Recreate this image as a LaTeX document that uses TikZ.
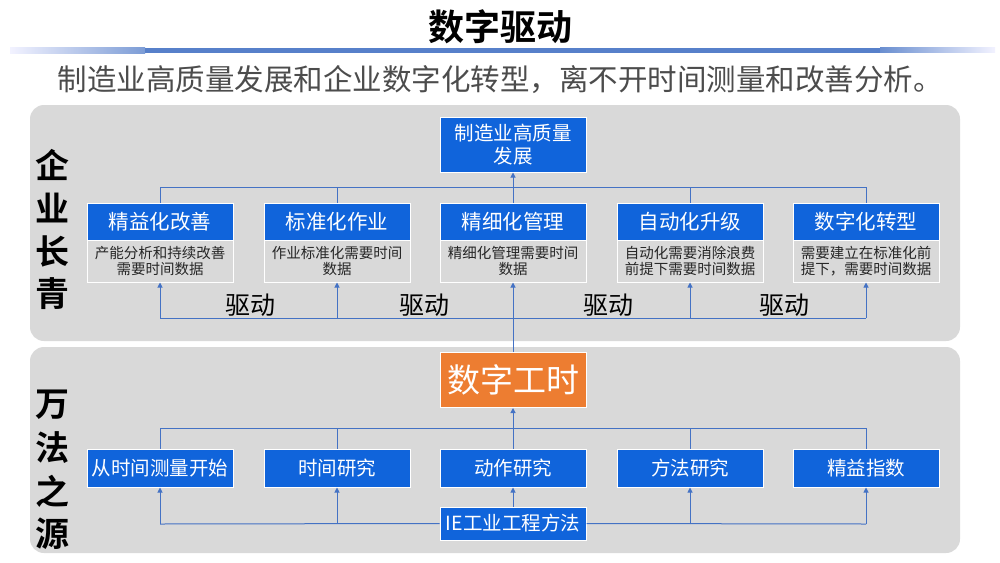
\documentclass[tikz,border=0pt]{standalone}
\usepackage{fontspec}
\setmainfont{Noto Sans CJK SC}
\newfontfamily\cjkb{Noto Sans CJK SC Bold}
\usetikzlibrary{arrows.meta}
\definecolor{bl}{HTML}{1064DB}
\definecolor{pan}{HTML}{D9D9D9}
\definecolor{ln}{HTML}{4472C4}
\definecolor{org}{HTML}{ED7D31}
\tikzset{
 hd/.style={fill=bl,draw=white,line width=1pt,text=white,minimum width=146pt,inner sep=0pt,font=\fontsize{20.5}{22}\selectfont},
 ds/.style={fill=pan,draw=white,line width=1pt,minimum width=146pt,minimum height=42pt,inner sep=1pt,align=center,font=\fontsize{14.5}{15.5}\selectfont,text=black!85},
 cn/.style={draw=ln,line width=1pt},
 ar/.style={cn,-{Triangle[length=5pt,width=5pt]}},
 dr/.style={font=\fontsize{25}{26}\selectfont}
}
\begin{document}
\begin{tikzpicture}[x=1pt,y=-1pt]
\useasboundingbox (0,0) rectangle (1000,562);
\fill[white] (0,0) rectangle (1000,562);
\node (title) at (500,27) {\cjkb\fontsize{36}{38}\selectfont 数字驱动};
\shade[left color=blue!5,right color=ln!70] (10,47) rectangle (145,53);
\fill[ln!90] (145,48) rectangle (880,53);
\shade[left color=ln!80,right color=blue!5] (880,47) rectangle (995,52);
\node[text=black!70] (sub) at (500,80) {\fontsize{29.5}{31}\selectfont 制造业高质量发展和企业数字化转型，离不开时间测量和改善分析。};
\fill[pan,rounded corners=14pt] (30,105) rectangle (960,341);
\fill[pan,rounded corners=14pt] (30,347) rectangle (960,553);
\foreach \c [count=\i] in {企,业,长,青} \node[font=\cjkb\fontsize{34}{34}\selectfont] (l\i) at (52,122+43*\i) {\c};
\foreach \c [count=\i] in {万,法,之,源} \node[font=\cjkb\fontsize{34}{34}\selectfont] (m\i) at (52,362+43*\i) {\c};
\node[hd,minimum height=55pt,align=center,font=\fontsize{19.5}{23}\selectfont] (top) at (513,144.5) {制造业高质量\\发展};
\node[fill=org,draw=white,line width=1pt,text=white,minimum width=146pt,minimum height=55pt,font=\fontsize{33}{35}\selectfont] (sz) at (513,380) {数字工时};
\foreach \x/\h/\d [count=\i] in {160/精益化改善/{产能分析和持续改善\\需要时间数据},337/标准化作业/{作业标准化需要时间\\数据},513/精细化管理/{精细化管理需要时间\\数据},690/自动化升级/{自动化需要消除浪费\\前提下需要时间数据},866/数字化转型/{需要建立在标准化前\\提下，需要时间数据}}{
 \node[hd,minimum height=37pt] (h\i) at (\x,222) {\h};
 \node[ds] (d\i) at (\x,261) {\d};
}
\foreach \x/\h [count=\i] in {160/从时间测量开始,337/时间研究,513/动作研究,690/方法研究,866/精益指数}
 \node[hd,minimum height=38pt,font=\fontsize{19.5}{21}\selectfont] (b\i) at (\x,468) {\h};
\node[hd,minimum height=33pt,font=\fontsize{19.5}{21}\selectfont] (ie) at (513,523.5) {IE工业工程方法};
\coordinate (j) at (513,187);
\draw[cn] (h1.north) |- (h5.north |- j) -- (h5.north);
\draw[cn] (h2.north) -- (h2.north |- j);
\draw[cn] (h4.north) -- (h4.north |- j);
\draw[ar] (h3.north) -- (top.south);
\coordinate (k) at (513,318);
\draw[cn] (d1.south |- k) -- (d5.south |- k);
\foreach \i in {1,2,4,5} \draw[ar] (d\i.south |- k) -- (d\i.south);
\draw[ar] (sz.north) -- (d3.south);
\foreach \x/\n in {250/q1,424/q2,608/q3,784/q4} \node[dr] (\n) at (\x,305) {驱动};
\coordinate (p) at (513,428);
\draw[cn] (b1.north) |- (b5.north |- p) -- (b5.north);
\draw[cn] (b2.north) -- (b2.north |- p);
\draw[cn] (b4.north) -- (b4.north |- p);
\draw[ar] (b3.north) -- (sz.south);
\coordinate (q) at (513,524);
\draw[cn] (b1.south |- q) -- (ie.west);
\draw[cn] (ie.east) -- (b5.south |- q);
\foreach \i in {1,2,4,5} \draw[ar] (b\i.south |- q) -- (b\i.south);
\draw[ar] (ie.north) -- (b3.south);
\end{tikzpicture}
\end{document}
